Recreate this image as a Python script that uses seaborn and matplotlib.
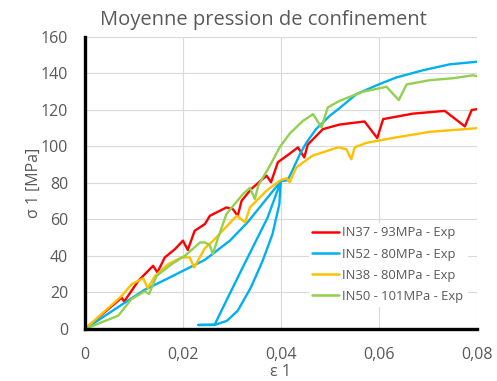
import pandas as pd
import matplotlib
matplotlib.use("Agg")
import matplotlib.pyplot as plt
import seaborn as sns

# Data (strain eps 1, stress sigma 1 in MPa)
in37_eps = [0, 0.0075, 0.008, 0.0109, 0.0139, 0.0148, 0.0163, 0.0184, 0.02, 0.021,
            0.0224, 0.0245, 0.0255, 0.0289, 0.0302, 0.0312, 0.032, 0.034, 0.0371,
            0.038, 0.0394, 0.0418, 0.0435, 0.0448, 0.0455, 0.0486, 0.052, 0.0571,
            0.0597, 0.0609, 0.067, 0.0735, 0.0776, 0.079, 0.08]
in37_sig = [0, 17.2, 15, 26.4, 34.6, 31, 39.2, 43.8, 48.4, 43.3,
            53.8, 57.5, 62, 66.6, 65.7, 62, 70.3, 76.8, 84,
            80.4, 91.4, 96, 99.5, 94, 101, 109.5, 112, 113.7,
            104.6, 115, 118, 119.5, 111, 120, 120.4]

in52_eps = [0, 0.0075, 0.0122, 0.017, 0.0204, 0.0245, 0.0296, 0.0332, 0.04,
            0.0397, 0.0383, 0.0363, 0.0339, 0.0312, 0.029, 0.0265, 0.0231, 0.0265,
            0.0292, 0.0319, 0.0346, 0.0373, 0.0393, 0.04,
            0.0414, 0.0425, 0.0439, 0.0452, 0.0472, 0.05, 0.052, 0.0554, 0.06,
            0.0636, 0.0691, 0.0745, 0.08]
in52_sig = [0, 13.3, 21.5, 27.8, 32.4, 37.9, 48.4, 58.4, 81,
            68.4, 52, 37.4, 22.8, 10, 4.5, 2.2, 2.2, 2.4,
            17.3, 32, 46.5, 61, 75.7, 81,
            81.5, 87.6, 95.8, 102, 109.5, 116.8, 121, 128.6, 134,
            137.8, 141.8, 145, 146.4]

in38_eps = [0, 0.0075, 0.0095, 0.0119, 0.0128, 0.0143, 0.017, 0.0197, 0.0214, 0.0223,
            0.0245, 0.0262, 0.031, 0.0327, 0.0337, 0.0371, 0.0398, 0.0412, 0.0418,
            0.0432, 0.0465, 0.0517, 0.0534, 0.0544, 0.0551, 0.0575, 0.0636, 0.0704, 0.08]
in38_sig = [0, 18.1, 24.5, 27.8, 22.3, 29, 35.5, 39.2, 39.2, 33.7,
            44.3, 48.4, 62.1, 58.4, 66.6, 75.8, 81.3, 82.7, 80.4,
            88.6, 95, 99.5, 98.5, 93, 99.5, 102, 105, 108, 110]

in50_eps = [0, 0.0068, 0.0095, 0.0122, 0.0131, 0.0146, 0.0177, 0.0204, 0.0235, 0.0245,
            0.0255, 0.0261, 0.0271, 0.0289, 0.0323, 0.0337, 0.0347, 0.0354, 0.0378,
            0.0398, 0.0418, 0.0445, 0.0466, 0.0483, 0.0496, 0.052, 0.0568, 0.0616,
            0.0641, 0.0657, 0.0704, 0.0752, 0.0793, 0.08]
in50_sig = [0, 7.3, 16.4, 20.6, 19.2, 29, 35.5, 40.1, 47.4, 47.4,
            46, 41, 49.3, 63, 74, 77.3, 71.2, 78.6, 89.6,
            99.7, 107, 114, 117.7, 110.4, 121.4, 125, 130, 132.7,
            125.4, 134, 136.3, 137.4, 139, 138.5]

labels = ["IN37 - 93MPa - Exp", "IN52 - 80MPa - Exp",
          "IN38 - 80MPa - Exp", "IN50 - 101MPa - Exp"]
colors = ["#FF0000", "#00B0F0", "#FFC000", "#92D050"]

frames = []
for lab, e, s in zip(labels, [in37_eps, in52_eps, in38_eps, in50_eps],
                     [in37_sig, in52_sig, in38_sig, in50_sig]):
    frames.append(pd.DataFrame({"eps": e, "sig": s, "essai": lab}))
df = pd.concat(frames, ignore_index=True)

sns.set_style("whitegrid")
plt.rcParams["font.family"] = ["Open Sans", "DejaVu Sans"]
grey = "#595959"

fig = plt.figure(figsize=(4.97, 3.81), dpi=100)
ax = fig.add_axes([0.171, 0.1365, 0.788, 0.7665])

sns.lineplot(data=df, x="eps", y="sig", hue="essai", hue_order=labels,
             palette=colors, sort=False, estimator=None, linewidth=1.7, ax=ax)

ax.set_xlim(0, 0.08)
ax.set_ylim(0, 160)
ax.set_xticks([0, 0.02, 0.04, 0.06, 0.08])
ax.set_xticklabels(["0", "0,02", "0,04", "0,06", "0,08"])
ax.set_yticks(range(0, 161, 20))
ax.grid(True, color="#D9D9D9", linewidth=0.8)
ax.tick_params(axis="both", length=0, labelsize=11.5, labelcolor=grey)
ax.tick_params(axis="x", pad=13)
ax.tick_params(axis="y", pad=12)

for side in ["top", "right"]:
    ax.spines[side].set_visible(False)
for side in ["left", "bottom"]:
    ax.spines[side].set_color("black")
    ax.spines[side].set_linewidth(2.4)

ax.set_xlabel("ε 1", fontsize=11.5, color=grey, labelpad=1)
ax.set_ylabel("σ 1 [MPa]", fontsize=11.5, color=grey, labelpad=-1)
fig.suptitle("Moyenne pression de confinement", fontsize=14.5, color=grey,
             x=0.53, y=0.975)

leg = ax.legend(loc="upper left", bbox_to_anchor=(302 / 497, (381 - 216) / 381),
                bbox_transform=fig.transFigure, fontsize=9.4, frameon=True,
                facecolor="white", edgecolor="none", framealpha=1,
                handlelength=2.0, handletextpad=0.3, labelspacing=0.62,
                borderpad=0.3, title=None)
for t in leg.get_texts():
    t.set_color(grey)
for h in leg.get_lines():
    h.set_linewidth(1.8)

fig.savefig("out.png", dpi=100)
